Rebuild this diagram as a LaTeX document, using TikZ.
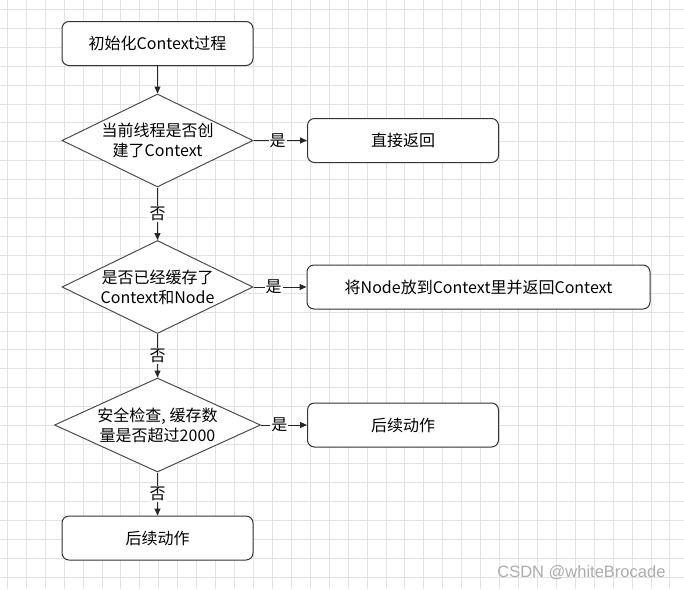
\documentclass[tikz,border=0pt]{standalone}
\usepackage{fontspec}
\setmainfont{Noto Sans CJK SC}
\newfontfamily\markfont{Liberation Sans}
\usetikzlibrary{shapes.geometric}
\usetikzlibrary{arrows.meta}

\tikzset{
  stepbox/.style={rectangle,draw=black!80,line width=1pt,rounded corners=7pt,
    minimum width=191pt,minimum height=44pt,inner sep=0pt,
    font=\fontsize{16}{20}\selectfont},
  decision/.style={diamond,draw=black!70,line width=1pt,
    minimum width=191pt,minimum height=93pt,inner sep=0pt},
  dtext/.style={align=center,font=\fontsize{16}{20}\selectfont},
  flow/.style={-{Triangle[length=7pt,width=6pt]},line width=1pt,draw=black!85},
  yesno/.style={fill=white,inner sep=1pt,font=\fontsize{16}{18}\selectfont},
}

\begin{document}
\begin{tikzpicture}[x=1pt,y=-1pt]
\useasboundingbox (0,0) rectangle (684,589);
% grid
\foreach \k in {0,...,35}
  \draw[gray!22,line width=0.8pt] ({7.3+18.93*\k},0) -- ({7.3+18.93*\k},589);
\foreach \k in {0,...,30}
  \draw[gray!22,line width=0.8pt] (0,{9.3+18.92*\k}) -- (684,{9.3+18.92*\k});

\node[stepbox,fill=white] (init) at (157.5,43.5) {初始化Context过程};

\node[decision,fill=white] (ctx) at (157.5,140.5) {};
\node[dtext] at (ctx) {当前线程是否创\\建了Context};
\node[stepbox,fill=white] (ret) at (403,140.5) {直接返回};

\node[decision,fill=white] (cache) at (157.5,287) {};
\node[dtext] at (cache) {是否已经缓存了\\Context和Node};
\node[stepbox,fill=white,minimum width=343pt] (put) at (478.5,287) {将Node放到Context里并返回Context};

\node[decision,fill=white,minimum width=206pt,minimum height=94pt] (check) at (157.5,425) {};
\node[dtext] at (check) {安全检查, 缓存数\\量是否超过2000};
\node[stepbox,fill=white] (next) at (403,425) {后续动作};

\node[stepbox,fill=white] (after) at (157.5,538) {后续动作};

% connectors
\draw[flow] (init) -- (ctx);
\draw[flow] (ctx) -- node[yesno,pos=0.45] {是} (ret);
\draw[flow] (ctx) -- node[yesno] {否} (cache);
\draw[flow] (cache) -- node[yesno,pos=0.38] {是} (put);
\draw[flow] (cache) -- node[yesno] {否} (check);
\draw[flow] (check) -- node[yesno,pos=0.4] {是} (next);
\draw[flow] (check) -- node[yesno] {否} (after);

\node[anchor=east,text=gray!65,font=\markfont\fontsize{16.5}{18}\selectfont] (mark) at (669,573) {CSDN @whiteBrocade};
\end{tikzpicture}
\end{document}
